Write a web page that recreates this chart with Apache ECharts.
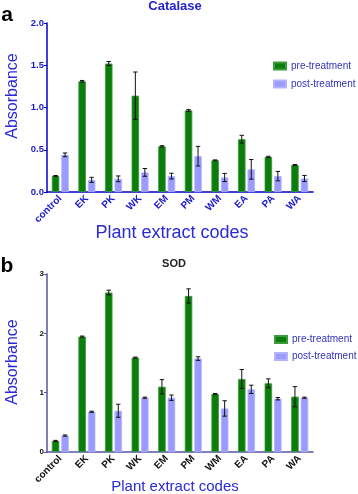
<!DOCTYPE html>
<html><head><meta charset="utf-8">
<script src="https://cdn.jsdelivr.net/npm/echarts@6/dist/echarts.min.js"></script>
<style>html,body{margin:0;padding:0;background:#fff}#c{width:358px;height:494px}</style>
</head><body><div id="c"></div>
<script>
var categories = ['control','EK','PK','WK','EM','PM','WM','EA','PA','WA'];
var seriesNames = ['pre-treatment','post-treatment'];
var catPre = [0.19,1.31,1.52,1.14,0.54,0.965,0.375,0.625,0.415,0.32];
var catPreErr = [0.005,0.01,0.024,0.28,0.008,0.01,0.005,0.046,0.008,0.005];
var catPost = [0.44,0.144,0.156,0.232,0.188,0.424,0.172,0.268,0.188,0.16];
var catPostErr = [0.022,0.03,0.034,0.046,0.034,0.116,0.048,0.116,0.056,0.036];
var sodPre = [0.186,1.944,2.687,1.59,1.10,2.63,0.977,1.23,1.158,0.932];
var sodPreErr = [0.01,0.01,0.04,0.01,0.12,0.12,0.01,0.16,0.075,0.17];
var sodPost = [0.277,0.678,0.695,0.915,0.915,1.575,0.734,1.056,0.898,0.915];
var sodPostErr = [0.01,0.01,0.11,0.01,0.045,0.03,0.13,0.07,0.02,0.01];
var catTicks = [0, 2, 0.5];
var sodTicks = [0, 3, 1];

var FONT = 'Liberation Sans, Arial, sans-serif';
var GREEN = '#0b7d0b', PURPLE = '#9a9aff';
var BW = 7.5, GAP = 2;

function errSeries(vals, errs, idx, side) {
  return {
    type: 'custom', xAxisIndex: idx, yAxisIndex: idx, z: 10, silent: true,
    data: vals.map(function (v, i) { return [i, v, errs[i]]; }),
    renderItem: function (params, api) {
      var i = api.value(0), v = api.value(1), e = api.value(2);
      var top = api.coord([i, v + e]), bot = api.coord([i, v - e]);
      var x = top[0] + side * (BW + GAP) / 2;
      var cw = 2.2;
      var st = { stroke: '#111', lineWidth: 1 };
      return { type: 'group', children: [
        { type: 'line', shape: { x1: x, y1: top[1], x2: x, y2: bot[1] }, style: st },
        { type: 'line', shape: { x1: x - cw, y1: top[1], x2: x + cw, y2: top[1] }, style: st },
        { type: 'line', shape: { x1: x - cw, y1: bot[1], x2: x + cw, y2: bot[1] }, style: st }
      ]};
    }
  };
}
function barSeries(name, vals, idx, color, border) {
  return { name: name, type: 'bar', xAxisIndex: idx, yAxisIndex: idx, data: vals,
    barWidth: BW, barGap: (GAP / BW * 100) + '%',
    itemStyle: { color: color, borderColor: border, borderWidth: 0.8 } };
}
function xAx(idx, color, lblColor, fs) {
  return { type: 'category', gridIndex: idx, data: categories,
    axisLine: { lineStyle: { color: color, width: 1.5 } },
    axisTick: { alignWithLabel: true, length: 3, lineStyle: { color: color } },
    axisLabel: { rotate: 45, interval: 0, margin: 5, color: lblColor, fontWeight: 'bold', fontSize: fs, fontFamily: FONT } };
}
function yAx(idx, t, color, lblColor, fs, fmt) {
  return { type: 'value', gridIndex: idx, min: t[0], max: t[1], interval: t[2],
    axisLine: { show: true, lineStyle: { color: color, width: 1.5 } },
    axisTick: { show: true, length: 3, lineStyle: { color: color } },
    splitLine: { show: false },
    axisLabel: { margin: 3, color: lblColor, fontWeight: 'bold', fontSize: fs, fontFamily: FONT, formatter: fmt } };
}
function txt(t, x, y, fs, color, bold, rot) {
  return { type: 'text', x: x, y: y, rotation: rot || 0,
    style: { text: t, fontSize: fs, fontFamily: FONT, fontWeight: bold ? 'bold' : 'normal', fill: color, align: 'center', verticalAlign: 'middle' } };
}

var chart = echarts.init(document.getElementById('c'));
chart.setOption({
  animation: false,
  grid: [
    { left: 47, width: 266, top: 23, height: 169 },
    { left: 47, width: 266, top: 274, height: 178 }
  ],
  xAxis: [ xAx(0, '#0000cc', '#1a1acc', 10), xAx(1, '#5555aa', '#111', 10) ],
  yAxis: [
    yAx(0, catTicks, '#0000cc', '#1a1acc', 9.5, function (v) { return v.toFixed(1); }),
    yAx(1, sodTicks, '#5555aa', '#111', 8, function (v) { return String(v); })
  ],
  legend: [
    { data: seriesNames, orient: 'vertical', left: 268, top: 56, itemWidth: 12, itemHeight: 7, itemGap: 8, icon: 'rect',
      textStyle: { fontSize: 10, color: '#3333bb', fontFamily: FONT }, selectedMode: false },
    { data: seriesNames, orient: 'vertical', left: 269, top: 329.5, itemWidth: 12, itemHeight: 7, itemGap: 7, icon: 'rect',
      textStyle: { fontSize: 10, color: '#3333bb', fontFamily: FONT }, selectedMode: false }
  ],
  series: [
    barSeries(seriesNames[0], catPre, 0, GREEN, '#3d9b3d'),
    barSeries(seriesNames[1], catPost, 0, PURPLE, '#b3b3ff'),
    errSeries(catPre, catPreErr, 0, -1),
    errSeries(catPost, catPostErr, 0, 1),
    barSeries(seriesNames[0], sodPre, 1, GREEN, '#3d9b3d'),
    barSeries(seriesNames[1], sodPost, 1, PURPLE, '#b3b3ff'),
    errSeries(sodPre, sodPreErr, 1, -1),
    errSeries(sodPost, sodPostErr, 1, 1)
  ],
  graphic: [
    txt('a', 7, 15, 21, '#000', true),
    txt('b', 7, 266, 21, '#000', true),
    txt('Catalase', 175, 6, 13, '#2222cc', true),
    txt('SOD', 174, 264, 11, '#222', true),
    txt('Absorbance', 13, 96, 16, '#2a2ad6', false, Math.PI / 2),
    txt('Absorbance', 13, 362, 16, '#2a2ad6', false, Math.PI / 2),
    txt('Plant extract codes', 172, 233, 18, '#2a2ad6', false),
    txt('Plant extract codes', 175, 487, 15, '#2a2ad6', false)
  ]
});
</script></body></html>
